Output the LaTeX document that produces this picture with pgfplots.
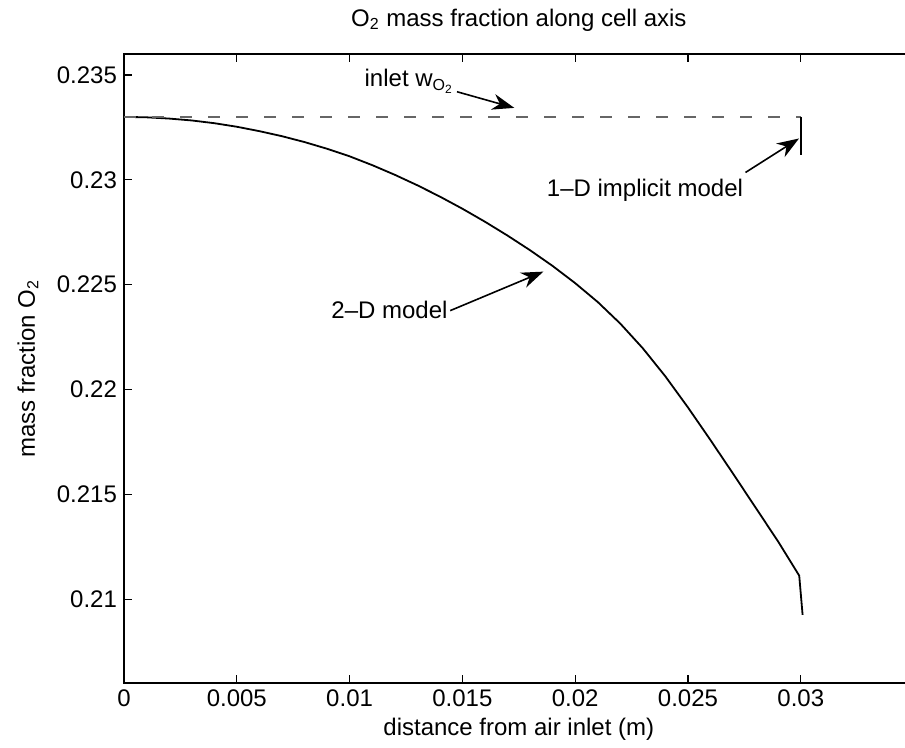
\documentclass[border=0pt]{standalone}
\usepackage{fontspec}
\setmainfont{Liberation Sans}
\usepackage{pgfplots}
\pgfplotsset{compat=1.18}
\usetikzlibrary{arrows.meta}

\pgfplotstableread{
x y
0       0.23300
0.001   0.23298
0.002   0.23292
0.003   0.23283
0.004   0.23270
0.005   0.23253
0.006   0.23232
0.007   0.23208
0.008   0.23180
0.009   0.23148
0.010   0.23112
0.011   0.23070
0.012   0.23024
0.013   0.22974
0.014   0.22920
0.015   0.22862
0.016   0.22800
0.017   0.22734
0.018   0.22664
0.019   0.22589
0.020   0.22507
0.021   0.22417
0.022   0.22314
0.023   0.22196
0.024   0.22062
0.025   0.21914
0.026   0.21758
0.027   0.21598
0.028   0.21436
0.029   0.21274
0.02993 0.21112
0.03008 0.20925
}\twoD

\begin{document}
\begin{tikzpicture}
\begin{axis}[
  scale only axis, width=394.8pt, height=314.5pt,
  xmin=0, xmax=0.035, ymin=0.206, ymax=0.236,
  xtick={0,0.005,0.01,0.015,0.02,0.025,0.03},
  ytick={0.21,0.215,0.22,0.225,0.23,0.235},
  scaled x ticks=false, scaled y ticks=false,
  xticklabel style={/pgf/number format/fixed, /pgf/number format/precision=3},
  yticklabel style={/pgf/number format/fixed, /pgf/number format/precision=3},
  /pgf/number format/assume math mode=true,
  tick align=inside, major tick length=4pt,
  axis line style={line width=0.9pt},
  every tick/.style={line width=0.6pt, black},
  tick label style={font=\fontsize{12}{14}\selectfont},
  label style={font=\fontsize{12}{14}\selectfont},
  title style={font=\fontsize{12}{14}\selectfont, at={(axis description cs:0.5,1)}, anchor=center, yshift=11pt},
  xlabel={distance from air inlet (m)},
  ylabel={mass fraction O\textsubscript{2}},
  title={O\textsubscript{2} mass fraction along cell axis},
  xlabel style={at={(axis description cs:0.5,0)}, anchor=center, yshift=-23pt},
  ylabel style={at={(axis description cs:-0.1216,0.5)}, anchor=center},
  clip=false,
]
\addplot[black, line width=0.9pt, line join=round] table[x=x, y=y] {\twoD};
\addplot[black!60, line width=0.7pt, dash pattern=on 6pt off 8pt] coordinates {(0,0.233) (0.03,0.233)};
\addplot[black, line width=0.8pt] coordinates {(0.03,0.233) (0.03,0.2312)};

\node[anchor=west, inner sep=0pt, font=\fontsize{12}{14}\selectfont] at (axis cs:0.01065,0.2347) {inlet w\textsubscript{O\textsubscript{2}}};
\draw[line width=0.8pt, -{Stealth[length=11pt,width=8pt]}] (axis cs:0.01476,0.2342) -- (axis cs:0.0173,0.23343);

\node[anchor=west, inner sep=0pt, font=\fontsize{12}{14}\selectfont] at (axis cs:0.01873,0.2295) {1--D implicit model};
\draw[line width=0.8pt, -{Stealth[length=11pt,width=8pt]}] (axis cs:0.02755,0.23035) -- (axis cs:0.02992,0.23197);

\node[anchor=east, inner sep=0pt, font=\fontsize{12}{14}\selectfont] at (axis cs:0.01436,0.2238) {2--D model};
\draw[line width=0.8pt, -{Stealth[length=11pt,width=8pt]}] (axis cs:0.01446,0.22376) -- (axis cs:0.01859,0.22562);
\end{axis}
\pgfresetboundingbox
\path[use as bounding box] ([xshift=-62pt,yshift=-32.5pt]current axis.south west) rectangle ([xshift=390.5pt,yshift=27pt]current axis.north west);
\end{tikzpicture}
\end{document}
